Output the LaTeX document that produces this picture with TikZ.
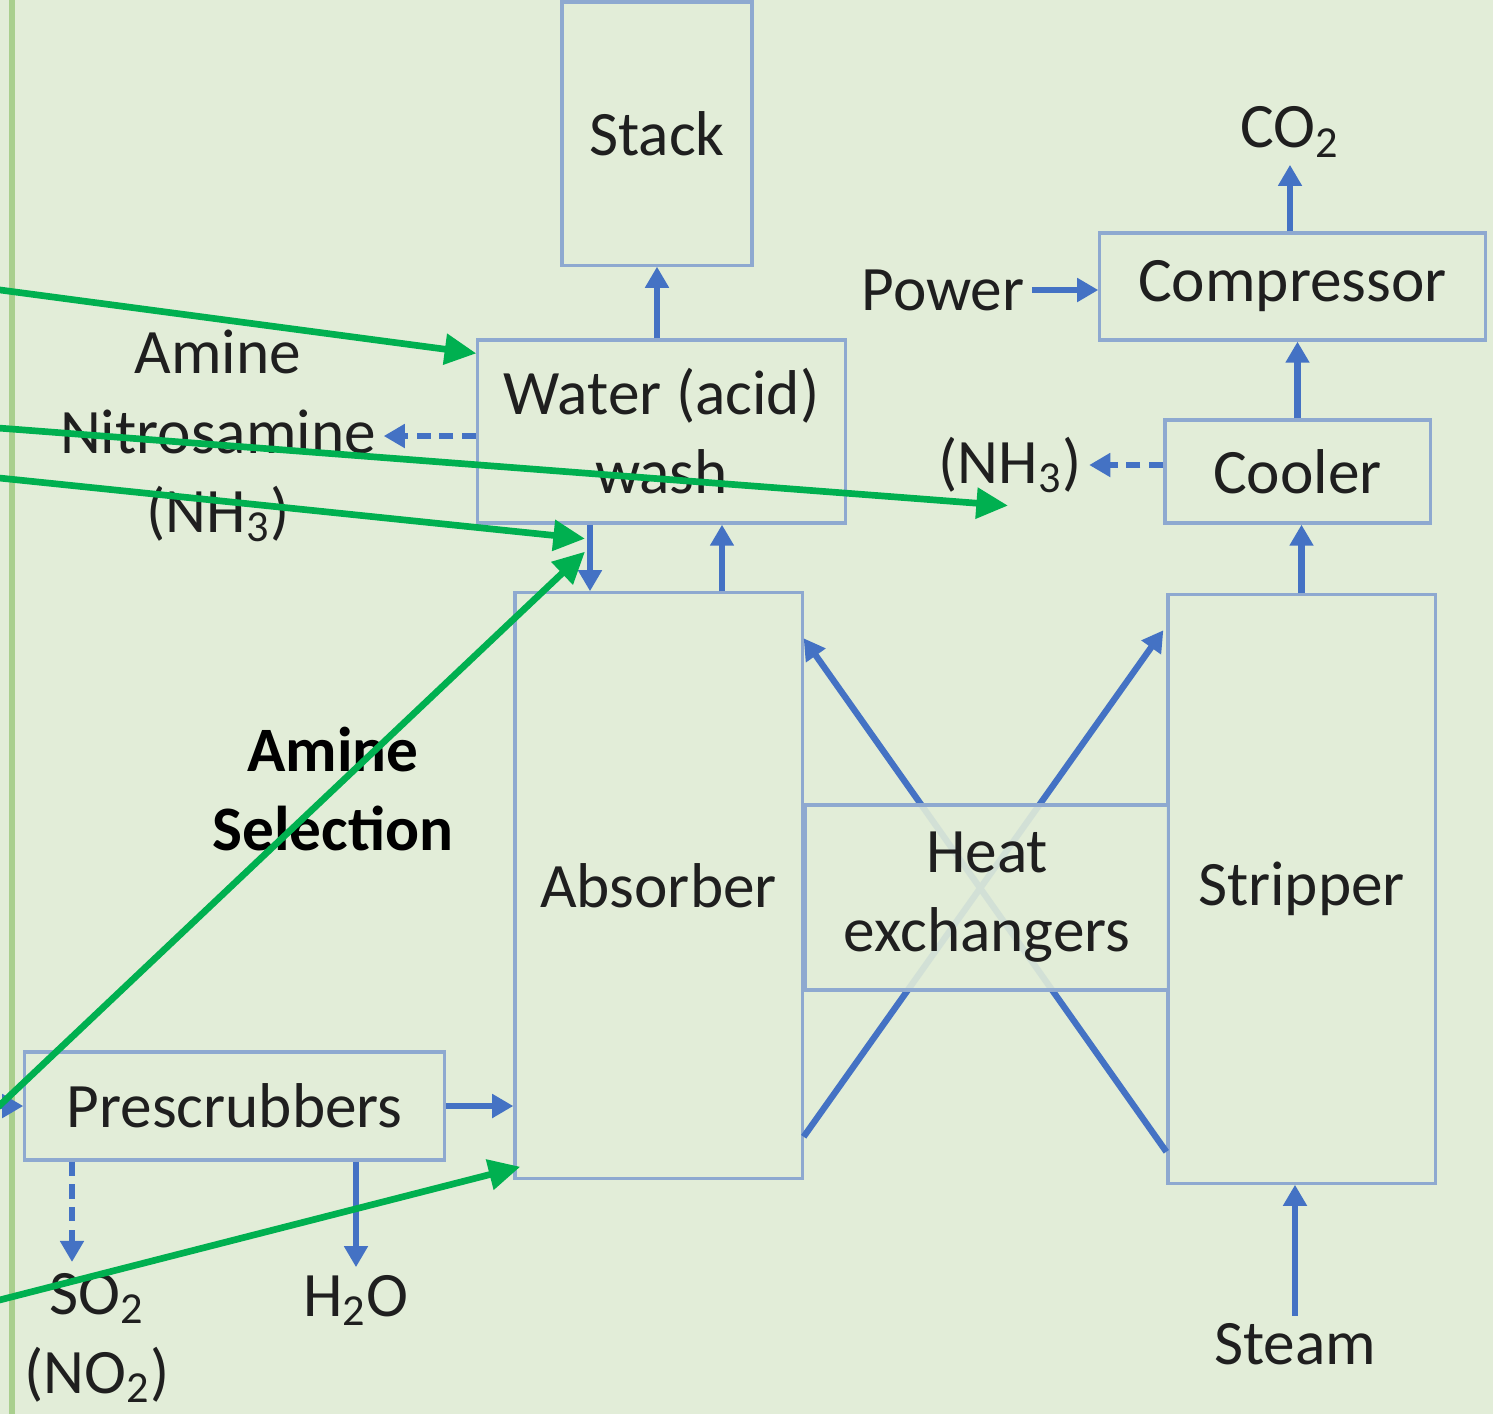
\documentclass[tikz,border=0pt]{standalone}
\usepackage{fontspec}
\setmainfont{Carlito}
\usepackage{xcolor}
\usetikzlibrary{arrows.meta, calc}

\definecolor{bgGreen}{HTML}{E2EDD8}
\definecolor{edgeGreen}{HTML}{A9CF8E}
\definecolor{boxBlue}{HTML}{8EA9D0}
\definecolor{flowBlue}{HTML}{4472C4}
\definecolor{markGreen}{HTML}{00B050}

\begin{document}
\begin{tikzpicture}[x=0.01cm, y=-0.01cm,
    unit/.style = {draw=boxBlue, line width=0.9pt, inner sep=0pt, align=center, text=black!88, font=\fontsize{18}{22.5}\selectfont},
    tag/.style = {inner sep=2pt, align=center, text=black!88, font=\fontsize{18}{22.5}\selectfont},
    flow/.style = {draw=flowBlue, line width=1.8pt, -{Triangle[length=6pt, width=6.5pt]}},
    spill/.style = {flow, dash pattern=on 4pt off 2.5pt},
    hint/.style = {draw=markGreen, line width=1.9pt, -{Triangle[length=9pt, width=8.5pt]}}]

    \clip (0,0) rectangle (1493,1414);
    \fill[bgGreen] (0,0) rectangle (1493,1414);
    \draw[edgeGreen, line width=1.5pt] (12,0) -- (12,1414);

    % Process units
    \node[unit, minimum width=1.9cm, minimum height=2.63cm] (stack) at (657,133.5) {Stack};
    \node[unit, minimum width=3.67cm, minimum height=1.83cm] (wash) at (661.5,431.5) {Water (acid)\\wash};
    \node[unit, minimum width=2.87cm, minimum height=5.85cm] (absorber) at (658.5,885.5) {Absorber};
    \node[unit, minimum width=2.67cm, minimum height=5.88cm] (stripper) at (1301.5,889) {Stripper};
    \node[unit, minimum width=2.65cm, minimum height=1.03cm] (cooler) at (1297.5,471.5) {Cooler};
    \node[unit, minimum width=3.85cm, minimum height=1.07cm] (compressor) at (1292.5,286.5) {Compressor};
    \node[unit, minimum width=4.19cm, minimum height=1.08cm] (prescrub) at (234.5,1106) {Prescrubbers};

    % Streams in and out
    \node[tag] (washout) at (218,436) {Amine\\Nitrosamine\\(NH\textsubscript{3})};
    \node[tag] (coolout) at (1010,465) {(NH\textsubscript{3})};
    \node[tag] (power) at (943,290) {Power};
    \node[tag] (co2) at (1290,132) {CO\textsubscript{2}};
    \node[tag] (steam) at (1295,1344) {Steam};
    \node[tag] (so2) at (97,1338) {SO\textsubscript{2}\\(NO\textsubscript{2})};
    \node[tag] (h2o) at (356,1300) {H\textsubscript{2}O};
    \node[font=\fontsize{18}{22.5}\selectfont\bfseries, align=center] (select) at (333,789) {Amine\\Selection};
    \coordinate (so2top) at (72,1262);
    \coordinate (feed) at (-40,1106);

    % Blue flows
    \draw[flow] (stack.south |- wash.north) -- (stack.south);
    \draw[flow] ($(wash.south)+(-71.5,0)$) -- ($(absorber.north)+(-68.5,0)$);
    \draw[flow] ($(absorber.north)+(63.5,0)$) -- ($(wash.south)+(60.5,0)$);
    \draw[flow] (cooler.north) -- (cooler.north |- compressor.south);
    \draw[flow] (stripper.north) -- (stripper.north |- cooler.south);
    \draw[flow] (co2.south |- compressor.north) -- (co2.south);
    \draw[flow] (power.east) -- (power.east -| compressor.west);
    \draw[spill] (coolout.east -| cooler.west) -- (coolout.east);
    \draw[spill] (washout.east -| wash.west) -- (washout.east);
    \draw[flow] (steam.north) -- (steam.north |- stripper.south);
    \draw[flow] (feed) -- (prescrub.west);
    \draw[flow] (prescrub.east) -- (prescrub.east -| absorber.west);
    \draw[spill] (prescrub.south -| so2top) -- (so2top);
    \draw[flow] (prescrub.south -| h2o.north) -- (h2o.north);
    \draw[flow] ($(absorber.south east)+(0,-43)$) -- ($(stripper.north west)+(-3,37)$);
    \draw[flow] ($(stripper.south west)+(0,-33)$) -- ($(absorber.north east)+(0,47)$);

    \node[unit, fill=bgGreen, fill opacity=0.9, text opacity=1, minimum width=3.62cm, minimum height=1.85cm] (hx) at (987,897.5) {Heat\\exchangers};

    % Green pointers
    \coordinate (g1) at (-20,287.3);
    \coordinate (g2) at (-20,426.6);
    \coordinate (g3) at (-20,476);
    \coordinate (g4) at (-10,1114.5);
    \coordinate (g5) at (-20,1305);
    \draw[hint] (g1) -- ($(wash.north west)+(0,15)$);
    \draw[hint] (g2) -- ($(coolout.south)+(-2,5)$);
    \draw[hint] (g3) -- ($(wash.south)+(-76.5,14)$);
    \draw[hint] (g4) -- ($(wash.south)+(-76.5,27)$);
    \draw[hint] (g5) -- ($(absorber.south west)+(7,-13)$);
\end{tikzpicture}
\end{document}
